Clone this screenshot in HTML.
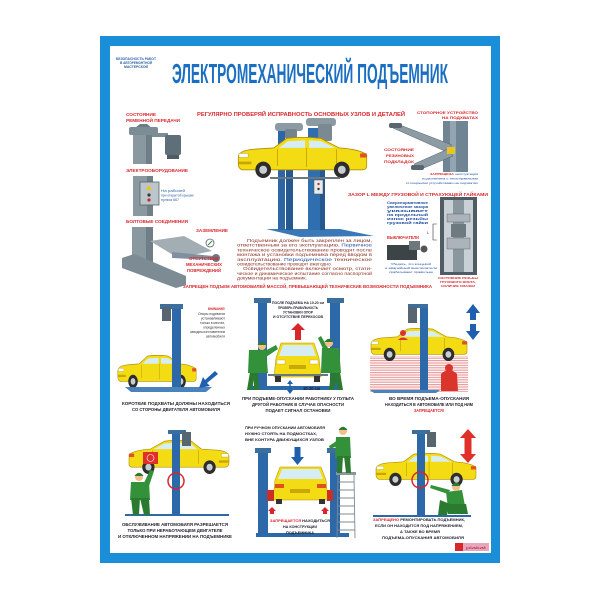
<!DOCTYPE html>
<html><head><meta charset="utf-8">
<style>
html,body{margin:0;padding:0;background:#fff}
svg{display:block}
text{font-family:"Liberation Sans","DejaVu Sans",sans-serif}
</style></head>
<body>
<svg width="600" height="600" viewBox="0 0 600 600" xmlns="http://www.w3.org/2000/svg">
<defs>
<symbol id="car" viewBox="0 0 100 30" preserveAspectRatio="none">
  <path d="M1,14 Q2,10 12,9 L28,8 L38,1 Q50,-0.5 64,1 L78,8 Q94,9 99,13 L99,22 Q98,24 96,24 L4,24 Q1,23 1,20 Z" fill="#f4dc14" stroke="#b38d00" stroke-width="0.6"/>
  <path d="M39,3 L32,8 L52,8 L52,2.5 Z" fill="#d6edf4"/>
  <path d="M55,2.5 L55,8 L75,8 L64,3 Z" fill="#d6edf4"/>
  <path d="M53,8 L53,22 M31,9 L31,21 M76,9 L76,21" stroke="#b38d00" stroke-width="0.5" fill="none"/>
  <rect x="1.5" y="12" width="7" height="3" fill="#fff" stroke="#b38d00" stroke-width="0.3"/>
  <rect x="1" y="18" width="10" height="2" fill="#c9a400"/>
  <rect x="94" y="12" width="5" height="3" fill="#e05020"/>
  <circle cx="20" cy="24" r="6" fill="#2d2d2d"/><circle cx="20" cy="24" r="3" fill="#c8cdd0"/>
  <circle cx="80" cy="24" r="6" fill="#2d2d2d"/><circle cx="80" cy="24" r="3" fill="#c8cdd0"/>
</symbol>
<pattern id="stripes" width="4" height="2.4" patternUnits="userSpaceOnUse"><rect width="4" height="1.2" fill="#ea9c9c"/></pattern>
</defs>

<rect width="600" height="600" fill="#fff"/>
<rect x="100" y="36" width="400" height="527" fill="#1a8fd8"/>
<rect x="110" y="46" width="381" height="507" fill="#fff"/>

<!-- header -->
<g font-size="3.4" fill="#2b5fa8" font-weight="bold" text-anchor="middle">
<text x="136" y="60" textLength="40" lengthAdjust="spacingAndGlyphs">БЕЗОПАСНОСТЬ РАБОТ</text>
<text x="136" y="64" textLength="32" lengthAdjust="spacingAndGlyphs">В АВТОРЕМОНТНОЙ</text>
<text x="136" y="68" textLength="24" lengthAdjust="spacingAndGlyphs">МАСТЕРСКОЙ</text>
</g>
<text x="172" y="83" font-size="28" font-weight="bold" fill="#1b6fc2" textLength="276" lengthAdjust="spacingAndGlyphs">ЭЛЕКТРОМЕХАНИЧЕСКИЙ ПОДЪЕМНИК</text>

<text x="197" y="116" font-size="5.6" font-weight="bold" fill="#d8262a" textLength="208" lengthAdjust="spacingAndGlyphs">РЕГУЛЯРНО ПРОВЕРЯЙ ИСПРАВНОСТЬ ОСНОВНЫХ УЗЛОВ И ДЕТАЛЕЙ</text>

<!-- top-left machine -->
<g font-size="4.2" font-weight="bold" fill="#d8262a">
<text x="126" y="116" textLength="30" lengthAdjust="spacingAndGlyphs">СОСТОЯНИЕ</text>
<text x="126" y="122" textLength="54" lengthAdjust="spacingAndGlyphs">РЕМЕННОЙ ПЕРЕДАЧИ</text>
<text x="126" y="172" textLength="62" lengthAdjust="spacingAndGlyphs">ЭЛЕКТРООБОРУДОВАНИЕ</text>
<text x="126" y="223" textLength="62" lengthAdjust="spacingAndGlyphs">БОЛТОВЫЕ СОЕДИНЕНИЯ</text>
<text x="196" y="232" textLength="32" lengthAdjust="spacingAndGlyphs">ЗАЗЕМЛЕНИЕ</text>
</g>
<g font-size="3.2" fill="#2b5fa8">
<text x="161" y="192" textLength="24" lengthAdjust="spacingAndGlyphs">На рабочей</text>
<text x="161" y="196.5" textLength="33" lengthAdjust="spacingAndGlyphs">при открытой крышке</text>
<text x="161" y="201" textLength="18" lengthAdjust="spacingAndGlyphs">пульта 667</text>
</g>
<path d="M135,128 L140,124 L147,124 L152,128Z" fill="#6c7c86"/>
<rect x="129" y="127" width="29" height="8" rx="2" fill="#7d8d96"/>
<rect x="150" y="133" width="18" height="4" fill="#7d8d96"/>
<rect x="165" y="135" width="16" height="20" rx="2" fill="#5f6f79"/>
<rect x="167" y="155" width="12" height="4" fill="#4f5c64"/>
<rect x="133" y="135" width="19" height="29" fill="#8a98a0"/><rect x="146" y="135" width="6" height="29" fill="#6f7e87"/>
<rect x="133" y="176" width="20" height="40" fill="#8a98a0"/><rect x="147" y="176" width="6" height="40" fill="#6f7e87"/>
<rect x="140" y="182" width="19" height="23" fill="#bcc5ca" stroke="#55626a" stroke-width="0.8"/>
<path d="M149,185 L152,190 L146,190 Z" fill="#e8c520"/>
<circle cx="149" cy="195" r="1.6" fill="#3a3a3a"/><circle cx="149" cy="200" r="1.6" fill="#c03030"/>
<rect x="132" y="227" width="21" height="36" fill="#8a98a0"/><rect x="146" y="227" width="7" height="36" fill="#6f7e87"/>
<path d="M122,258 L134,254 L186,276 L186,285 L176,288 L122,268 Z" fill="#7c8b94"/>
<path d="M150,241 L184,236 L212,251 L178,258 Z" fill="#a2aeb4"/>
<path d="M172,252 L213,256 L213,260 L172,258 Z" fill="#8090a0"/>
<circle cx="216" cy="258" r="4" fill="#6a7880"/>
<circle cx="210" cy="243" r="4" fill="#fff" stroke="#55626a" stroke-width="0.8"/>
<path d="M208,245 L212,241" stroke="#2d8a3a" stroke-width="1"/>
<g font-size="4.2" font-weight="bold" fill="#d8262a" text-anchor="middle">
<text x="204" y="260" textLength="30" lengthAdjust="spacingAndGlyphs">ОТСУТСТВИЕ</text>
<text x="204" y="266" textLength="36" lengthAdjust="spacingAndGlyphs">МЕХАНИЧЕСКИХ</text>
<text x="204" y="272" textLength="34" lengthAdjust="spacingAndGlyphs">ПОВРЕЖДЕНИЙ</text>
</g>

<!-- central lift -->
<path d="M266,229 L340,229 L374,236 L300,237 Z" fill="#3a78b8"/>
<rect x="278" y="128" width="7" height="102" fill="#2d65a5"/>
<rect x="286" y="128" width="7" height="102" fill="#24588f"/>
<rect x="275" y="123" width="28" height="8" rx="3" fill="#8c9ba3"/>
<rect x="285" y="129" width="12" height="10" rx="2" fill="#74838c"/>
<rect x="308" y="128" width="17" height="102" fill="#2f6fb0"/>
<rect x="320" y="128" width="5" height="102" fill="#24588f"/>
<rect x="306" y="118" width="30" height="8" rx="3" fill="#8c9ba3"/>
<rect x="318" y="124" width="14" height="17" rx="2" fill="#7b8a92"/>
<use href="#car" x="237" y="137" width="131" height="41"/>
<rect x="270" y="177" width="70" height="2" fill="#6a7880"/>
<rect x="314" y="180" width="9" height="14" fill="#e8eaec" stroke="#555" stroke-width="0.5"/>
<circle cx="318.5" cy="184" r="1.2" fill="#c03030"/><circle cx="318.5" cy="189" r="1.2" fill="#333"/>

<g font-size="4.1" fill="#8a2d1f">
<text x="247" y="242" textLength="125" lengthAdjust="spacingAndGlyphs">Подъемник должен быть закреплен за лицом,</text>
<text x="237" y="246.7" textLength="135" lengthAdjust="spacingAndGlyphs">ответственным за его эксплуатацию. <tspan fill="#1f4fa0">Первичное</tspan></text>
<text x="237" y="251.4" textLength="135" lengthAdjust="spacingAndGlyphs">техническое освидетельствование проводят после</text>
<text x="237" y="256.1" textLength="135" lengthAdjust="spacingAndGlyphs">монтажа и установки подъемника перед вводом в</text>
<text x="237" y="260.8" textLength="135" lengthAdjust="spacingAndGlyphs">эксплуатацию. <tspan fill="#1f4fa0">Периодическое</tspan> техническое</text>
<text x="237" y="265.5" textLength="95" lengthAdjust="spacingAndGlyphs">освидетельствование проводят ежегодно.</text>
<text x="243" y="270.2" textLength="129" lengthAdjust="spacingAndGlyphs">Освидетельствование включает осмотр, стати-</text>
<text x="237" y="274.9" textLength="135" lengthAdjust="spacingAndGlyphs">ческое и динамическое испытание согласно паспортной</text>
<text x="237" y="279.6" textLength="70" lengthAdjust="spacingAndGlyphs">документации на подъемник.</text>
</g>
<text x="183" y="288" font-size="4.6" font-weight="bold" fill="#d8262a" textLength="249" lengthAdjust="spacingAndGlyphs">ЗАПРЕЩЕН ПОДЪЕМ АВТОМОБИЛЕЙ МАССОЙ, ПРЕВЫШАЮЩЕЙ ТЕХНИЧЕСКИЕ ВОЗМОЖНОСТИ ПОДЪЕМНИКА</text>

<!-- top right -->
<g font-size="4" font-weight="bold" fill="#d8262a" text-anchor="end">
<text x="478" y="114" textLength="61" lengthAdjust="spacingAndGlyphs">СТОПОРНОЕ УСТРОЙСТВО</text>
<text x="478" y="119" textLength="36" lengthAdjust="spacingAndGlyphs">НА ПОДХВАТАХ</text>
<text x="414" y="151" textLength="30" lengthAdjust="spacingAndGlyphs">СОСТОЯНИЕ</text>
<text x="414" y="157" textLength="28" lengthAdjust="spacingAndGlyphs">РЕЗИНОВЫХ</text>
<text x="414" y="163" textLength="30" lengthAdjust="spacingAndGlyphs">ПОДКЛАДОК</text>
</g>
<rect x="443" y="121" width="25" height="51" fill="#6f8594"/>
<rect x="450" y="121" width="6" height="51" fill="#92a5b0"/>
<path d="M393,128 L400,125 L452,145 L447,152 Z" fill="#8d9ba4" stroke="#55626a" stroke-width="0.5"/>
<rect x="389" y="123" width="13" height="5" rx="2" fill="#5a666e"/>
<path d="M414,164 L448,149 L453,156 L419,170 Z" fill="#8d9ba4" stroke="#55626a" stroke-width="0.5"/>
<rect x="411" y="165" width="13" height="5" rx="2" fill="#5a666e"/>
<rect x="447" y="147" width="8" height="7" fill="#e8c520"/>
<g font-size="3.1" fill="#1f4fa0" text-anchor="end">
<text x="478" y="175" textLength="48" lengthAdjust="spacingAndGlyphs"><tspan fill="#d8262a" font-weight="bold">ЗАПРЕЩЕНА</tspan> эксплуатация</text>
<text x="478" y="179.5" textLength="56" lengthAdjust="spacingAndGlyphs">подъемника с неисправными</text>
<text x="478" y="184" textLength="72" lengthAdjust="spacingAndGlyphs">стопорными устройствами на подхватах</text>
</g>
<text x="348" y="196" font-size="4.4" font-weight="bold" fill="#d8262a" textLength="140" lengthAdjust="spacingAndGlyphs">ЗАЗОР  L  МЕЖДУ ГРУЗОВОЙ И СТРАХУЮЩЕЙ ГАЙКАМИ</text>
<g font-size="3.2" fill="#1f4fa0" font-weight="bold">
<text x="387" y="204" textLength="41" lengthAdjust="spacingAndGlyphs">Сверхнормативное</text>
<text x="387" y="208" textLength="41" lengthAdjust="spacingAndGlyphs">увеличение зазора</text>
<text x="387" y="212" textLength="41" lengthAdjust="spacingAndGlyphs">указывает</text>
<text x="387" y="216" textLength="41" lengthAdjust="spacingAndGlyphs">на предельный</text>
<text x="387" y="220" textLength="41" lengthAdjust="spacingAndGlyphs">износ резьбы</text>
<text x="387" y="224" textLength="41" lengthAdjust="spacingAndGlyphs">грузовой гайки</text>
</g>
<rect x="440" y="197" width="37" height="78" fill="#4f5c64"/>
<rect x="444" y="200" width="29" height="72" fill="#c9d1d6"/>
<rect x="453" y="200" width="11" height="72" fill="#8b979e"/>
<rect x="447" y="214" width="23" height="8" fill="#aab4ba" stroke="#555" stroke-width="0.4"/>
<rect x="447" y="238" width="23" height="11" fill="#aab4ba" stroke="#555" stroke-width="0.4"/>
<rect x="451" y="224" width="15" height="13" fill="#6e7a82"/>
<path d="M437,224 L433,224 L433,240 L437,240" stroke="#333" fill="none" stroke-width="0.6"/>
<text x="427" y="234" font-size="4" fill="#333">L</text>
<text x="387" y="239" font-size="4.3" font-weight="bold" fill="#d8262a" textLength="32" lengthAdjust="spacingAndGlyphs">ВЫКЛЮЧАТЕЛИ</text>
<rect x="387" y="245" width="30" height="15" fill="#3d4448"/>
<rect x="409" y="241" width="11" height="9" fill="#6e777c"/>
<circle cx="424" cy="249" r="3.5" fill="#555"/>
<g font-size="3" fill="#1f4fa0" text-anchor="middle">
<text x="411" y="265" textLength="40" lengthAdjust="spacingAndGlyphs">Убедись, что концевой</text>
<text x="411" y="269" textLength="52" lengthAdjust="spacingAndGlyphs">и аварийный выключатели</text>
<text x="411" y="273" textLength="44" lengthAdjust="spacingAndGlyphs">срабатывают правильно</text>
</g>
<g font-size="3" fill="#d8262a" font-weight="bold" text-anchor="middle">
<text x="458" y="279" textLength="40" lengthAdjust="spacingAndGlyphs">СОСТОЯНИЕ РЕЗЬБЫ</text>
<text x="458" y="283" textLength="36" lengthAdjust="spacingAndGlyphs">ГРУЗОВОГО ВИНТА,</text>
<text x="458" y="287" textLength="34" lengthAdjust="spacingAndGlyphs">НАЛИЧИЕ СМАЗКИ</text>
</g>

<!-- Panel 1 -->
<use href="#car" x="117" y="355" width="80" height="33"/>
<rect x="172" y="308" width="9" height="82" fill="#2d68a8"/>
<rect x="160" y="304" width="23" height="5" fill="#3c6f9e"/>
<rect x="162" y="307" width="9" height="14" fill="#566570"/>
<path d="M125,387 L212,387 L206,392 L131,392 Z" fill="#4a82bb"/>
<path d="M215,371 L205,380 L203,377 L199,388 L210,386 L207,383 L218,374 Z" fill="#1f5fae"/>
<text x="225" y="310" font-size="3.6" font-weight="bold" fill="#d8262a" text-anchor="end" textLength="17" lengthAdjust="spacingAndGlyphs">ВНИМАНИЕ!</text>
<g font-size="3.2" fill="#333" text-anchor="end">
<text x="225" y="315" textLength="27" lengthAdjust="spacingAndGlyphs">Опоры подхватов</text>
<text x="225" y="319.5" textLength="24" lengthAdjust="spacingAndGlyphs">устанавливают</text>
<text x="225" y="324" textLength="25" lengthAdjust="spacingAndGlyphs">только в местах,</text>
<text x="225" y="328.5" textLength="22" lengthAdjust="spacingAndGlyphs">определенных</text>
<text x="225" y="333" textLength="35" lengthAdjust="spacingAndGlyphs">заводом-изготовителем</text>
<text x="225" y="337.5" textLength="19" lengthAdjust="spacingAndGlyphs">автомобиля</text>
</g>
<g font-size="4.2" font-weight="bold" fill="#1d1d2b" text-anchor="middle">
<text x="176" y="405" textLength="108" lengthAdjust="spacingAndGlyphs">КОРОТКИЕ ПОДХВАТЫ ДОЛЖНЫ НАХОДИТЬСЯ</text>
<text x="176" y="411" textLength="88" lengthAdjust="spacingAndGlyphs">СО СТОРОНЫ ДВИГАТЕЛЯ АВТОМОБИЛЯ</text>
</g>

<!-- Panel 2 -->
<rect x="258" y="301" width="9" height="87" fill="#2d68a8"/>
<rect x="254" y="298" width="17" height="5" fill="#3c6f9e"/>
<rect x="330" y="301" width="10" height="87" fill="#2d68a8"/>
<rect x="327" y="298" width="17" height="5" fill="#3c6f9e"/>
<rect x="250" y="386" width="90" height="4" fill="#2d68a8"/>
<g font-size="3.3" font-weight="bold" fill="#1d1d2b" text-anchor="middle">
<text x="298" y="304" textLength="52" lengthAdjust="spacingAndGlyphs">ПОСЛЕ ПОДЪЕМА НА 10-20 см</text>
<text x="298" y="309" textLength="40" lengthAdjust="spacingAndGlyphs">ПРОВЕРЬ ПРАВИЛЬНОСТЬ</text>
<text x="298" y="313.5" textLength="30" lengthAdjust="spacingAndGlyphs">УСТАНОВКИ ОПОР</text>
<text x="298" y="318" textLength="50" lengthAdjust="spacingAndGlyphs">И ОТСУТСТВИЕ ПЕРЕКОСОВ</text>
</g>
<path d="M298,323 L305,330 L301,330 L301,340 L295,340 L295,330 L291,330 Z" fill="#d8262a"/>
<path d="M281,343 L314,343 L319,358 L321,377 L274,377 L276,358 Z" fill="#f4dc14" stroke="#b08a00" stroke-width="0.5"/>
<path d="M283,345 L312,345 L316,356 L279,356 Z" fill="#d6edf4"/>
<rect x="277" y="360" width="8" height="4" fill="#fff" stroke="#b08a00" stroke-width="0.3"/>
<rect x="310" y="360" width="8" height="4" fill="#fff" stroke="#b08a00" stroke-width="0.3"/>
<rect x="289" y="365" width="17" height="4" fill="#c8a80a"/>
<rect x="275" y="376" width="6" height="6" fill="#333"/><rect x="314" y="376" width="6" height="6" fill="#333"/>
<rect x="268" y="374" width="60" height="2" fill="#6a7880"/>
<g fill="#33913a">
<path d="M250,372 L258,372 L259,390 L254,390 L254,380 L252,390 L247,390 Z" fill="#2a7a30"/>
<path d="M249,350 L266,350 L268,373 L248,373 Z"/>
<path d="M263,352 L276,345 L278,349 L266,357 Z"/>
<path d="M331,372 L340,372 L343,390 L338,390 L336,380 L334,390 L329,390 Z" fill="#2a7a30"/>
<path d="M322,348 L339,348 L341,373 L321,373 Z"/>
<path d="M324,351 L318,338 L321,336 L328,348 Z"/>
</g>
<circle cx="262" cy="346" r="4" fill="#f1c08a"/><path d="M257.5,345 Q262,338.5 266.5,345 Z" fill="#2a7a30"/>
<circle cx="329" cy="343" r="4" fill="#f1c08a"/><path d="M324.5,342 Q329,335.5 333.5,342 Z" fill="#2a7a30"/>
<path d="M290,380 L293,384 L287,384 Z M290,394 L293,390 L287,390 Z" fill="#1f5fae"/>
<rect x="289.3" y="384" width="1.4" height="6" fill="#1f5fae"/>
<text x="303" y="390" font-size="4.4" font-weight="bold" fill="#1d1d2b" textLength="17" lengthAdjust="spacingAndGlyphs">10-20 см</text>
<g font-size="4.1" font-weight="bold" fill="#1d1d2b" text-anchor="middle">
<text x="298" y="400" textLength="112" lengthAdjust="spacingAndGlyphs">ПРИ ПОДЪЕМЕ-ОПУСКАНИИ РАБОТНИКУ У ПУЛЬТА</text>
<text x="298" y="406" textLength="92" lengthAdjust="spacingAndGlyphs">ДРУГОЙ РАБОТНИК В СЛУЧАЕ ОПАСНОСТИ</text>
<text x="298" y="412" textLength="65" lengthAdjust="spacingAndGlyphs">ПОДАЕТ СИГНАЛ ОСТАНОВКИ</text>
</g>

<!-- Panel 3 -->
<rect x="370" y="356" width="98" height="36" fill="url(#stripes)"/>
<use href="#car" x="370" y="328" width="98" height="33"/>
<circle cx="403" cy="333" r="3" fill="#d9352b"/><path d="M398,340 Q403,335 408,340 Z" fill="#d9352b"/>
<rect x="420" y="307" width="8" height="85" fill="#2d68a8"/>
<rect x="408" y="304" width="20" height="4" fill="#3c6f9e"/>
<rect x="408" y="307" width="9" height="16" fill="#566570"/>
<path d="M441,374 Q449,366 457,374 L458,391 L441,391 Z" fill="#d9352b"/>
<circle cx="449" cy="368" r="4" fill="#d9352b"/>
<path d="M370,390 L440,390 L436,393 L374,393 Z" fill="#4a82bb"/>
<path d="M473,304 L480,313 L476,313 L476,320 L470,320 L470,313 L466,313 Z" fill="#1f5fae"/>
<path d="M473,340 L480,331 L476,331 L476,324 L470,324 L470,331 L466,331 Z" fill="#1f5fae"/>
<g font-size="4.1" font-weight="bold" fill="#1d1d2b" text-anchor="middle">
<text x="429" y="400" textLength="80" lengthAdjust="spacingAndGlyphs">ВО ВРЕМЯ ПОДЪЕМА-ОПУСКАНИЯ</text>
<text x="429" y="406" textLength="88" lengthAdjust="spacingAndGlyphs">НАХОДИТЬСЯ В АВТОМОБИЛЕ ИЛИ ПОД НИМ</text>
<text x="429" y="412" fill="#d8262a" textLength="30" lengthAdjust="spacingAndGlyphs">ЗАПРЕЩАЕТСЯ!</text>
</g>

<!-- Panel 4 -->
<g transform="translate(230,440) scale(-1,1)"><use href="#car" width="102" height="34"/></g>
<rect x="143" y="452" width="15" height="12" fill="#e0302a"/>
<circle cx="150.5" cy="458" r="3.5" fill="none" stroke="#fff" stroke-width="0.6"/>
<rect x="172" y="432" width="8" height="83" fill="#2d68a8"/>
<rect x="168" y="430" width="18" height="4" fill="#3c6f9e"/>
<rect x="182" y="432" width="9" height="14" fill="#566570"/>
<circle cx="176" cy="481" r="8" fill="none" stroke="#d8262a" stroke-width="1.5"/>
<rect x="125" y="514" width="104" height="2" fill="#2d68a8"/>
<g fill="#33913a">
<path d="M131,482 L149,482 L150,500 L130,500 Z"/>
<path d="M131,498 L140,498 L139,515 L133,515 Z" fill="#2a7a30"/>
<path d="M140,498 L149,498 L150,515 L144,515 Z" fill="#2a7a30"/>
<path d="M144,483 L150,470 L154,471 L149,486 Z"/>
</g>
<circle cx="139" cy="477" r="4" fill="#f1c08a"/><path d="M134.5,476 Q139,469.5 143.5,476 Z" fill="#2a7a30"/>
<g font-size="4.1" font-weight="bold" fill="#1d1d2b" text-anchor="middle">
<text x="175" y="526" textLength="106" lengthAdjust="spacingAndGlyphs">ОБСЛУЖИВАНИЕ АВТОМОБИЛЯ РАЗРЕШАЕТСЯ</text>
<text x="175" y="532" textLength="95" lengthAdjust="spacingAndGlyphs">ТОЛЬКО ПРИ НЕРАБОТАЮЩЕМ ДВИГАТЕЛЕ</text>
<text x="175" y="538" textLength="114" lengthAdjust="spacingAndGlyphs">И ОТКЛЮЧЕННОМ НАПРЯЖЕНИИ НА ПОДЪЕМНИКЕ</text>
</g>

<!-- Panel 5 -->
<g font-size="3.4" font-weight="bold" fill="#1d1d2b">
<text x="245" y="429" textLength="80" lengthAdjust="spacingAndGlyphs">ПРИ РУЧНОМ ОПУСКАНИИ АВТОМОБИЛЯ</text>
<text x="245" y="435" textLength="72" lengthAdjust="spacingAndGlyphs">НУЖНО СТОЯТЬ НА ПОДМОСТКАХ,</text>
<text x="245" y="441" textLength="79" lengthAdjust="spacingAndGlyphs">ВНЕ КОНТУРА ДВИЖУЩИХСЯ УЗЛОВ</text>
</g>
<rect x="258" y="451" width="10" height="84" fill="#2d68a8"/>
<rect x="255" y="448" width="16" height="5" fill="#3c6f9e"/>
<rect x="330" y="451" width="10" height="84" fill="#2d68a8"/>
<rect x="327" y="448" width="16" height="5" fill="#3c6f9e"/>
<rect x="256" y="533" width="93" height="4" fill="#2d68a8"/>
<path d="M297.5,465 L304,457 L300.5,457 L300.5,447 L294.5,447 L294.5,457 L291,457 Z" fill="#1f5fae"/>
<path d="M280,467 L321,467 L326,480 L328,500 L273,500 L275,480 Z" fill="#f4dc14" stroke="#b08a00" stroke-width="0.5"/>
<path d="M282,469 L319,469 L323,479 L278,479 Z" fill="#d6edf4"/>
<rect x="275" y="484" width="9" height="4" fill="#e05020"/><rect x="317" y="484" width="9" height="4" fill="#e05020"/>
<rect x="290" y="489" width="20" height="4" fill="#c8a80a"/>
<rect x="276" y="499" width="6" height="5" fill="#333"/><rect x="319" y="499" width="6" height="5" fill="#333"/>
<rect x="267" y="490" width="7" height="11" fill="#c83028"/><rect x="327" y="490" width="6" height="11" fill="#c83028"/>
<path d="M272,507 L276,511 L274,511 L274,514 L270,514 L270,511 L268,511 Z" fill="#d8262a"/>
<path d="M325,507 L329,511 L327,511 L327,514 L323,514 L323,511 L321,511 Z" fill="#d8262a"/>
<g fill="none" stroke="#7d8a92" stroke-width="0.9">
<path d="M338,474 L337,538 M354,474 L355,538"/>
<path d="M337.5,482 L354.5,482 M337.5,490 L354.5,490 M337.5,498 L354.5,498 M337.5,506 L354.5,506 M337.5,514 L354.5,514 M337.5,522 L354.5,522 M337.5,530 L354.5,530"/>
</g>
<rect x="336" y="472" width="20" height="3" fill="#8a979e"/>
<g fill="#33913a">
<path d="M336,437 L350,437 L351,458 L335,458 Z"/>
<path d="M337,456 L343,456 L342,473 L337,473 Z" fill="#2a7a30"/>
<path d="M344,456 L350,456 L351,473 L346,473 Z" fill="#2a7a30"/>
<path d="M338,440 L329,446 L330,449 L340,445 Z"/>
</g>
<circle cx="343" cy="431" r="4" fill="#f1c08a"/><path d="M338.5,430 Q343,423.5 347.5,430 Z" fill="#2a7a30"/>
<g font-size="3.5" font-weight="bold" fill="#1d1d2b" text-anchor="middle">
<text x="300" y="522" textLength="60" lengthAdjust="spacingAndGlyphs"><tspan fill="#d8262a">ЗАПРЕЩАЕТСЯ</tspan> НАХОДИТЬСЯ</text>
<text x="300" y="528" textLength="34" lengthAdjust="spacingAndGlyphs">НА КОНСТРУКЦИИ</text>
<text x="300" y="534" textLength="28" lengthAdjust="spacingAndGlyphs">ПОДЪЕМНИКА</text>
</g>

<!-- Panel 6 -->
<use href="#car" x="375" y="453" width="102" height="33"/>
<rect x="417" y="432" width="8" height="85" fill="#2d68a8"/>
<rect x="412" y="430" width="18" height="4" fill="#3c6f9e"/>
<rect x="427" y="432" width="9" height="15" fill="#566570"/>
<circle cx="420" cy="480" r="8" fill="none" stroke="#d8262a" stroke-width="1.5"/>
<path d="M468,429 L476,438 L471.5,438 L471.5,454 L476,454 L468,463 L460,454 L464.5,454 L464.5,438 L460,438 Z" fill="#e0302a"/>
<rect x="373" y="515" width="98" height="2" fill="#2d68a8"/>
<g fill="#33913a">
<path d="M446,492 L462,490 L465,506 L448,508 Z"/>
<path d="M448,504 L466,504 L468,514 L448,514 Z" fill="#2a7a30"/>
<path d="M440,500 L450,504 L447,515 L438,515 Z" fill="#2a7a30"/>
<path d="M448,494 L430,488 L431,485 L450,490 Z"/>
</g>
<circle cx="456" cy="487" r="4" fill="#f1c08a"/><path d="M451.5,486 Q456,479.5 460.5,486 Z" fill="#2a7a30"/>
<g font-size="4" font-weight="bold" fill="#1d1d2b" text-anchor="middle">
<text x="419" y="521" textLength="92" lengthAdjust="spacingAndGlyphs"><tspan fill="#d8262a">ЗАПРЕЩЕНО</tspan> РЕМОНТИРОВАТЬ ПОДЪЕМНИК,</text>
<text x="419" y="527" textLength="88" lengthAdjust="spacingAndGlyphs">ЕСЛИ ОН НАХОДИТСЯ ПОД НАПРЯЖЕНИЕМ,</text>
<text x="420" y="533" textLength="40" lengthAdjust="spacingAndGlyphs">А ТАКЖЕ ВО ВРЕМЯ</text>
<text x="423" y="539" textLength="82" lengthAdjust="spacingAndGlyphs">ПОДЪЕМА-ОПУСКАНИЯ АВТОМОБИЛЯ</text>
</g>
<rect x="455" y="543" width="34" height="8" fill="#e7a6bb"/>
<rect x="455" y="543" width="8" height="8" fill="#d8262a"/>
<text x="466" y="549" font-size="3.5" fill="#b02040" textLength="20" lengthAdjust="spacingAndGlyphs">plakat</text>
</svg>
</body></html>
